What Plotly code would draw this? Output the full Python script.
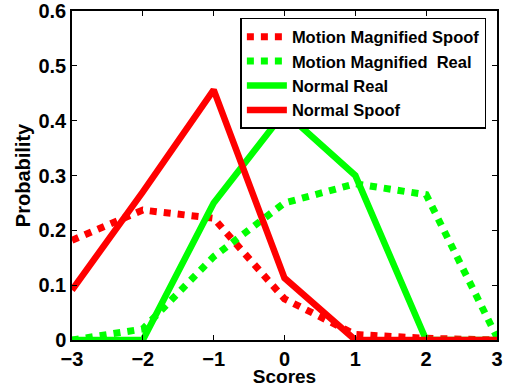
import plotly.graph_objects as go

scores = [-3, -2, -1, 0, 1, 2, 3]
mm_spoof = [0.182, 0.237, 0.222, 0.075, 0.010, 0.003, 0.0]
mm_real = [0.0, 0.020, 0.152, 0.250, 0.285, 0.265, 0.005]
normal_real = [0.0, 0.0, 0.250, 0.416, 0.300, 0.0, 0.0]
normal_spoof = [0.091, 0.270, 0.456, 0.113, 0.0, 0.0, 0.0]

RED = "#ff0000"
GREEN = "#00ff00"
FONT = "Liberation Sans"

fig = go.Figure()
fig.add_trace(go.Scatter(x=scores, y=mm_spoof, mode="lines", name="Motion Magnified Spoof",
                         line=dict(color=RED, width=7, dash="dot")))
fig.add_trace(go.Scatter(x=scores, y=mm_real, mode="lines", name="Motion Magnified  Real",
                         line=dict(color=GREEN, width=7, dash="dot")))
fig.add_trace(go.Scatter(x=scores, y=normal_real, mode="lines", name="Normal Real",
                         line=dict(color=GREEN, width=6.5)))
fig.add_trace(go.Scatter(x=scores, y=normal_spoof, mode="lines", name="Normal Spoof",
                         line=dict(color=RED, width=6.5)))

axis_common = dict(showline=True, linecolor="black", linewidth=1.5, mirror="ticks",
                   ticks="inside", ticklen=5, tickcolor="black", tickwidth=1,
                   showgrid=False, zeroline=False, automargin=False,
                   tickfont=dict(family=FONT, size=20, color="black", weight="bold"))

fig.update_layout(
    width=505, height=387,
    margin=dict(l=72, r=8, t=11, b=47),
    paper_bgcolor="white", plot_bgcolor="white",
    font=dict(family=FONT, color="black", weight="bold"),
    xaxis=dict(range=[-3, 3], tickvals=[-3, -2, -1, 0, 1, 2, 3], ticklabelstandoff=0,
               title=dict(text="Scores", standoff=6,
                          font=dict(family=FONT, size=19, color="black", weight="bold")),
               **axis_common),
    yaxis=dict(range=[0, 0.6], tickvals=[0, 0.1, 0.2, 0.3, 0.4, 0.5, 0.6],
               title=dict(text="Probability", standoff=2,
                          font=dict(family=FONT, size=20, color="black", weight="bold")),
               **axis_common),
    legend=dict(x=0.975, y=0.979, xanchor="right", yanchor="top",
                bgcolor="white", bordercolor="black", borderwidth=1.5,
                font=dict(family=FONT, size=16.5, color="black", weight="bold"),
                tracegroupgap=0, itemwidth=40),
    showlegend=True,
)

fig.write_html("out.html", config={"displayModeBar": False},
               post_script="document.body.style.margin='0';")
